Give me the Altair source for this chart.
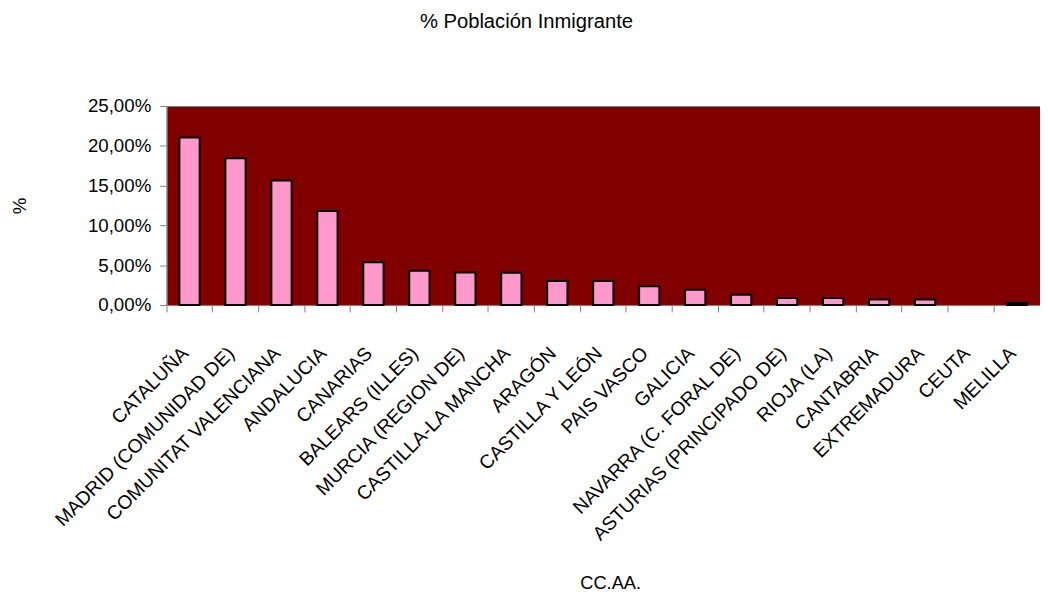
import altair as alt
import pandas as pd

categories = [
    "CATALUÑA", "MADRID (COMUNIDAD DE)", "COMUNITAT VALENCIANA", "ANDALUCIA",
    "CANARIAS", "BALEARS (ILLES)", "MURCIA (REGION DE)", "CASTILLA-LA MANCHA",
    "ARAGÓN", "CASTILLA Y LEÓN", "PAIS VASCO", "GALICIA",
    "NAVARRA (C. FORAL DE)", "ASTURIAS (PRINCIPADO DE)", "RIOJA (LA)",
    "CANTABRIA", "EXTREMADURA", "CEUTA", "MELILLA",
]
values = [21.04, 18.44, 15.63, 11.80, 5.36, 4.29, 4.08, 4.05, 3.00, 3.00,
          2.35, 1.90, 1.27, 0.87, 0.87, 0.68, 0.68, None, 0.25]
y_ticks = [0, 5, 10, 15, 20, 25]

df = pd.DataFrame({"ccaa": categories, "pct": values})

W = 887
H = 202
font = "Liberation Sans, Arial, sans-serif"

chart = (
    alt.Chart(df)
    .mark_bar(width=alt.RelativeBandSize(0.44), fill="#FF99CC", stroke="black", strokeWidth=2)
    .encode(
        x=alt.X(
            "ccaa:N",
            sort=categories,
            scale=alt.Scale(domain=categories, paddingInner=0, paddingOuter=0),
            axis=alt.Axis(
                title="CC.AA.",
                bandPosition=0,
                labelAngle=-45,
                labelAlign="right",
                labelBaseline="alphabetic",
                labelPadding=43,
                labelLimit=0,
                labelOverlap=False,
                labelFont=font,
                labelFontSize=19.5,
                labelColor="black",
                tickSize=7,
                tickColor="#808080",
                domainColor="#808080",
                titleFont=font,
                titleFontSize=18.5,
                titleFontWeight="normal",
                titleColor="black",
                titleX=W / 2 + 7,
                titleY=288,
                titleAlign="center",
                titleBaseline="alphabetic",
            ),
        ),
        y=alt.Y(
            "pct:Q",
            scale=alt.Scale(domain=[0, 25], nice=False),
            axis=alt.Axis(
                title="%",
                values=y_ticks,
                labelExpr="replace(format(datum.value, '.2f'), '.', ',') + '%'",
                grid=False,
                tickSize=7,
                tickColor="#808080",
                domainColor="#808080",
                labelPadding=9,
                labelFont=font,
                labelFontSize=19,
                labelColor="black",
                titleFont=font,
                titleFontSize=19,
                titleFontWeight="normal",
                titleColor="black",
                titleAngle=270,
                titleX=-149,
                titleY=H / 2,
                titleAlign="center",
                titleBaseline="middle",
            ),
        ),
    )
    .properties(
        width=W,
        height=H,
        title=alt.TitleParams(
            "% Población Inmigrante",
            anchor="middle",
            frame="group",
            dx=-78,
            offset=66,
            font=font,
            fontSize=20.5,
            fontWeight="normal",
            color="black",
        ),
        autosize=alt.AutoSizeParams(type="none"),
        padding={"left": 161, "top": 95, "right": 0, "bottom": 292},
    )
    .configure_view(fill="#800000", stroke="#808080", strokeWidth=1)
)

chart.save("out.html", embed_options={"renderer": "svg", "actions": False})
